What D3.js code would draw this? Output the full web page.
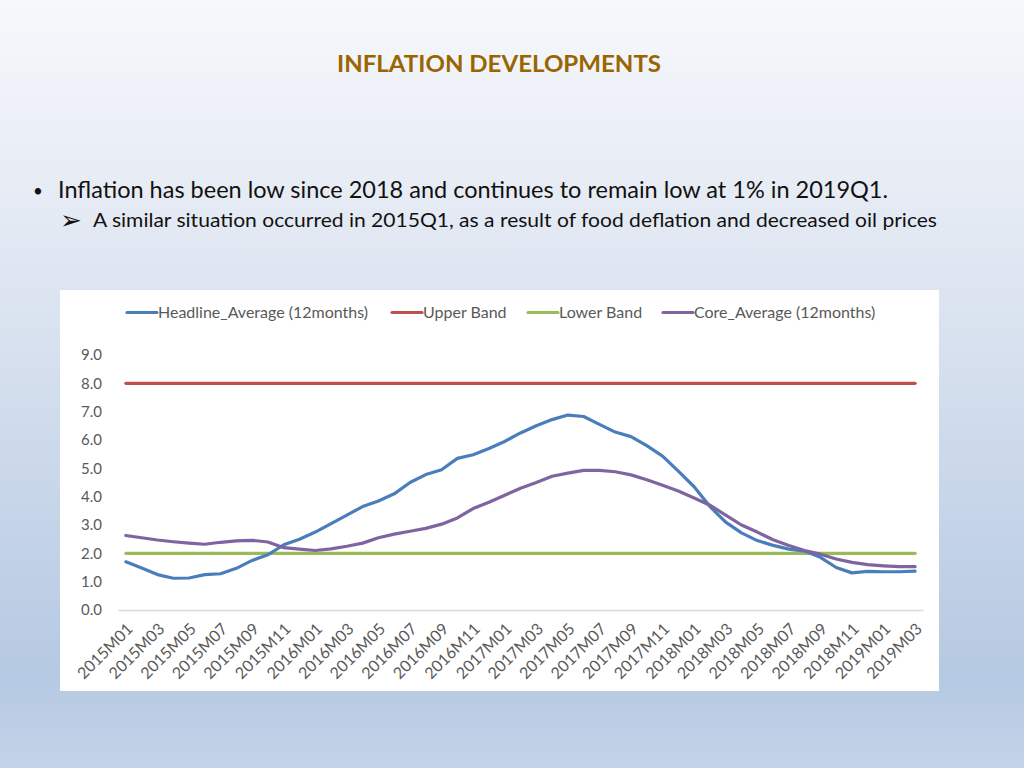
<!DOCTYPE html>
<html>
<head>
<meta charset="utf-8">
<script src="https://cdn.jsdelivr.net/npm/d3@7"></script>
<style>
html,body{margin:0;padding:0;width:1024px;height:768px;overflow:hidden;}
svg{display:block;}
</style>
</head>
<body>
<script>
// ---------- DATA ----------
const months = [
 "2015M01","2015M02","2015M03","2015M04","2015M05","2015M06","2015M07","2015M08","2015M09","2015M10","2015M11","2015M12",
 "2016M01","2016M02","2016M03","2016M04","2016M05","2016M06","2016M07","2016M08","2016M09","2016M10","2016M11","2016M12",
 "2017M01","2017M02","2017M03","2017M04","2017M05","2017M06","2017M07","2017M08","2017M09","2017M10","2017M11","2017M12",
 "2018M01","2018M02","2018M03","2018M04","2018M05","2018M06","2018M07","2018M08","2018M09","2018M10","2018M11","2018M12",
 "2019M01","2019M02","2019M03"
];
const headline = [
 1.70,1.48,1.25,1.12,1.13,1.25,1.28,1.47,1.75,1.95,2.30,2.50,
 2.75,3.05,3.35,3.65,3.85,4.10,4.50,4.78,4.95,5.35,5.48,5.70,
 5.95,6.25,6.50,6.72,6.88,6.83,6.55,6.28,6.12,5.80,5.43,4.90,
 4.35,3.65,3.10,2.72,2.45,2.28,2.15,2.08,1.86,1.50,1.31,1.36,
 1.35,1.35,1.37
];
const core = [
 2.63,2.55,2.47,2.41,2.36,2.32,2.39,2.44,2.46,2.40,2.20,2.15,
 2.10,2.16,2.25,2.36,2.55,2.68,2.78,2.88,3.03,3.25,3.58,3.80,
 4.05,4.30,4.50,4.72,4.83,4.93,4.93,4.88,4.77,4.60,4.40,4.20,
 3.95,3.70,3.35,3.00,2.75,2.48,2.28,2.10,1.97,1.80,1.68,1.60,
 1.56,1.53,1.53
];
const upperBand = months.map(() => 8);
const lowerBand = months.map(() => 2);
const yTicks = [0,1,2,3,4,5,6,7,8,9];
const seriesNames = ["Headline_Average (12months)","Upper Band","Lower Band","Core_Average (12months)"];
const seriesColors = ["#4a7ebb","#c0504d","#9bbb59","#8064a2"];
const title = "INFLATION DEVELOPMENTS";
const bullet1 = "Inflation has been low since 2018 and continues to remain low at 1% in 2019Q1.";
const bullet2 = "A similar situation occurred in 2015Q1, as a result of food deflation and decreased oil prices";

// ---------- DRAW ----------
const W = 1024, H = 768;
const font = "Lato, 'Open Sans', sans-serif";
const svg = d3.select("body").append("svg").attr("width", W).attr("height", H);

const defs = svg.append("defs");
const grad = defs.append("linearGradient").attr("id","bg").attr("x1",0).attr("y1",0).attr("x2",0).attr("y2",1);
grad.append("stop").attr("offset","0%").attr("stop-color","#f6f8fb");
grad.append("stop").attr("offset","30%").attr("stop-color","#e3e9f3");
grad.append("stop").attr("offset","88%").attr("stop-color","#b5c9e2");
grad.append("stop").attr("offset","100%").attr("stop-color","#c3d3e9");
svg.append("rect").attr("width",W).attr("height",H).attr("fill","url(#bg)");

// Title
svg.append("text").attr("x",499).attr("y",72).attr("text-anchor","middle")
  .attr("font-family",font).attr("font-weight","bold").attr("font-size",23)
  .attr("fill","#9a6500").attr("textLength",324).attr("lengthAdjust","spacingAndGlyphs")
  .text(title);

// Bullets
svg.append("text").attr("x",33).attr("y",197).attr("font-family",font).attr("font-size",17).attr("fill","#111").text("•");
svg.append("text").attr("x",58).attr("y",198).attr("font-family",font).attr("font-size",22.5)
  .attr("fill","#111").attr("textLength",830).attr("lengthAdjust","spacingAndGlyphs").text(bullet1);
svg.append("text").attr("x",60).attr("y",229).attr("font-family","'DejaVu Sans', sans-serif").attr("font-size",26).attr("fill","#111").text("➢");
svg.append("text").attr("x",93).attr("y",227).attr("font-family",font).attr("font-size",19)
  .attr("fill","#111").attr("textLength",844).attr("lengthAdjust","spacingAndGlyphs").text(bullet2);

// Chart panel
svg.append("rect").attr("x",60).attr("y",290).attr("width",879).attr("height",401).attr("fill","#ffffff");

const x = d3.scaleBand().domain(months).range([118, 923]).padding(0);
const y = d3.scaleLinear().domain([0, 9]).range([610, 355]);
const cx = d => x(d) + x.bandwidth()/2;

// Y axis
const yAxis = svg.append("g").attr("transform","translate(118,0)")
  .call(d3.axisLeft(y).tickValues(yTicks).tickFormat(d3.format(".1f")).tickSize(0).tickPadding(16));
yAxis.select(".domain").remove();
yAxis.selectAll("text").attr("font-family",font).attr("font-size",15).attr("fill","#595959");

// X axis
const xAxis = svg.append("g").attr("transform","translate(0,610)")
  .call(d3.axisBottom(x).tickValues(months.filter((m,i)=>i%2===0)).tickSize(0).tickPadding(0));
xAxis.select(".domain").attr("stroke","#d9d9d9").attr("stroke-width",1.5);
xAxis.selectAll("text")
  .attr("font-family",font).attr("font-size",16).attr("fill","#595959")
  .attr("text-anchor","end").attr("dy",0).attr("y",0)
  .attr("transform","translate(8,20) rotate(-45)");

// Lines
const line = d3.line().x((d,i)=>cx(months[i])).y(d=>y(d)).curve(d3.curveLinear);
const allSeries = [headline, upperBand, lowerBand, core];
const order = [1,2,0,3];
order.forEach(k => {
  svg.append("path").datum(allSeries[k]).attr("d", line)
    .attr("fill","none").attr("stroke",seriesColors[k]).attr("stroke-width",3.2)
    .attr("stroke-linecap","round").attr("stroke-linejoin","round");
});

// Legend
const legX = [127, 392, 528, 663];
const leg = svg.append("g");
seriesNames.forEach((n,i) => {
  leg.append("line").attr("x1",legX[i]).attr("x2",legX[i]+30).attr("y1",312.5).attr("y2",312.5)
    .attr("stroke",seriesColors[i]).attr("stroke-width",3.2).attr("stroke-linecap","round");
  leg.append("text").attr("x",legX[i]+31).attr("y",318)
    .attr("font-family",font).attr("font-size",16).attr("fill","#595959").text(n);
});
</script>
</body>
</html>
